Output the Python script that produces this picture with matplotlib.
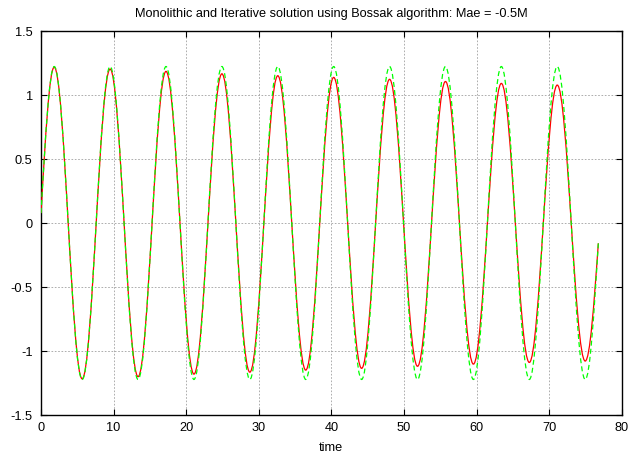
import matplotlib
matplotlib.use("Agg")
import matplotlib.pyplot as plt
from matplotlib.path import Path
from matplotlib.patches import PathPatch

plt.rcParams['font.family'] = ['Liberation Sans', 'DejaVu Sans']

# values: turning points of the two responses
t_start = 0.0
t_end = 76.78
peak_t = [1.82, 9.52, 17.22, 24.92, 32.62, 40.32, 48.02, 55.72, 63.42, 71.12]
trough_t = [5.67, 13.37, 21.07, 28.77, 36.47, 44.17, 51.87, 59.57, 67.27, 74.97]

mono_start = 0.08
mono_peak = [1.22, 1.205, 1.187, 1.168, 1.153, 1.14, 1.125, 1.108, 1.093, 1.08]
mono_trough = [-1.215, -1.198, -1.178, -1.163, -1.147, -1.133, -1.117, -1.10, -1.087, -1.076]
mono_end = -0.156

iter_start = 0.08
iter_peak = [1.225, 1.225, 1.225, 1.225, 1.225, 1.225, 1.225, 1.225, 1.225, 1.225]
iter_trough = [-1.22, -1.22, -1.22, -1.22, -1.22, -1.22, -1.22, -1.22, -1.22, -1.22]
iter_end = -0.156

x_ticks = [0, 10, 20, 30, 40, 50, 60, 70, 80]
y_ticks = [-1.5, -1, -0.5, 0, 0.5, 1, 1.5]
y_labels = ['-1.5', '-1', '-0.5', '0', '0.5', '1', '1.5']


def key_points(t0, v0, peaks_t, peaks_v, troughs_t, troughs_v, t1, v1):
    ts, vs = [t0], [v0]
    for pt, pv, tt, tv in zip(peaks_t, peaks_v, troughs_t, troughs_v):
        ts += [pt, tt]
        vs += [pv, tv]
    ts.append(t1)
    vs.append(v1)
    return ts, vs


def wave_path(ts, vs):
    # smooth bezier pieces between the read turning points
    verts = [(ts[0], vs[0])]
    codes = [Path.MOVETO]
    n = len(ts)
    for i in range(n - 1):
        a, b = ts[i], ts[i + 1]
        ya, yb = vs[i], vs[i + 1]
        dt = b - a
        if i == 0:
            c1 = (a + 0.326 * dt, ya + 0.512 * (yb - ya))
            c2 = (a + 0.638 * dt, yb)
        elif i == n - 2:
            c1 = (a + 0.362 * dt, ya)
            c2 = (a + 0.674 * dt, yb + 0.512 * (ya - yb))
        else:
            c1 = (a + 0.364 * dt, ya)
            c2 = (b - 0.364 * dt, yb)
        verts += [c1, c2, (b, yb)]
        codes += [Path.CURVE4] * 3
    return Path(verts, codes)


fig = plt.figure(figsize=(6.29, 4.57), dpi=100)
ax = fig.add_axes([0.0652, 0.0912, 0.9232, 0.8403])

mt, mv = key_points(t_start, mono_start, peak_t, mono_peak, trough_t, mono_trough, t_end, mono_end)
it, iv = key_points(t_start, iter_start, peak_t, iter_peak, trough_t, iter_trough, t_end, iter_end)

ax.add_patch(PathPatch(wave_path(mt, mv), fill=False, edgecolor='#ff0000', lw=0.9, zorder=3))
ax.add_patch(PathPatch(wave_path(it, iv), fill=False, edgecolor='#00ff00', lw=0.9,
                       linestyle=(0, (4, 2.5)), zorder=4))

ax.set_xlim(0, 80)
ax.set_ylim(-1.5, 1.5)
ax.set_xticks(x_ticks)
ax.set_xticklabels([str(v) for v in x_ticks])
ax.set_yticks(y_ticks)
ax.set_yticklabels(y_labels)
ax.tick_params(direction='in', length=4, width=0.8, top=True, right=True,
               labelsize=9.2, colors='black')
ax.tick_params(axis='y', pad=6)
ax.tick_params(axis='x', pad=5)
ax.grid(True, color='#a0a0a0', linestyle=(0, (2, 2)), lw=0.6)
for s in ax.spines.values():
    s.set_linewidth(1.0)
    s.set_color('black')

ax.set_xlabel('time', fontsize=9.2, labelpad=5.5)
ax.set_title('Monolithic and Iterative solution using Bossak algorithm: Mae = -0.5M',
             fontsize=9.2, pad=10.5)

fig.savefig('out.png', dpi=100)
